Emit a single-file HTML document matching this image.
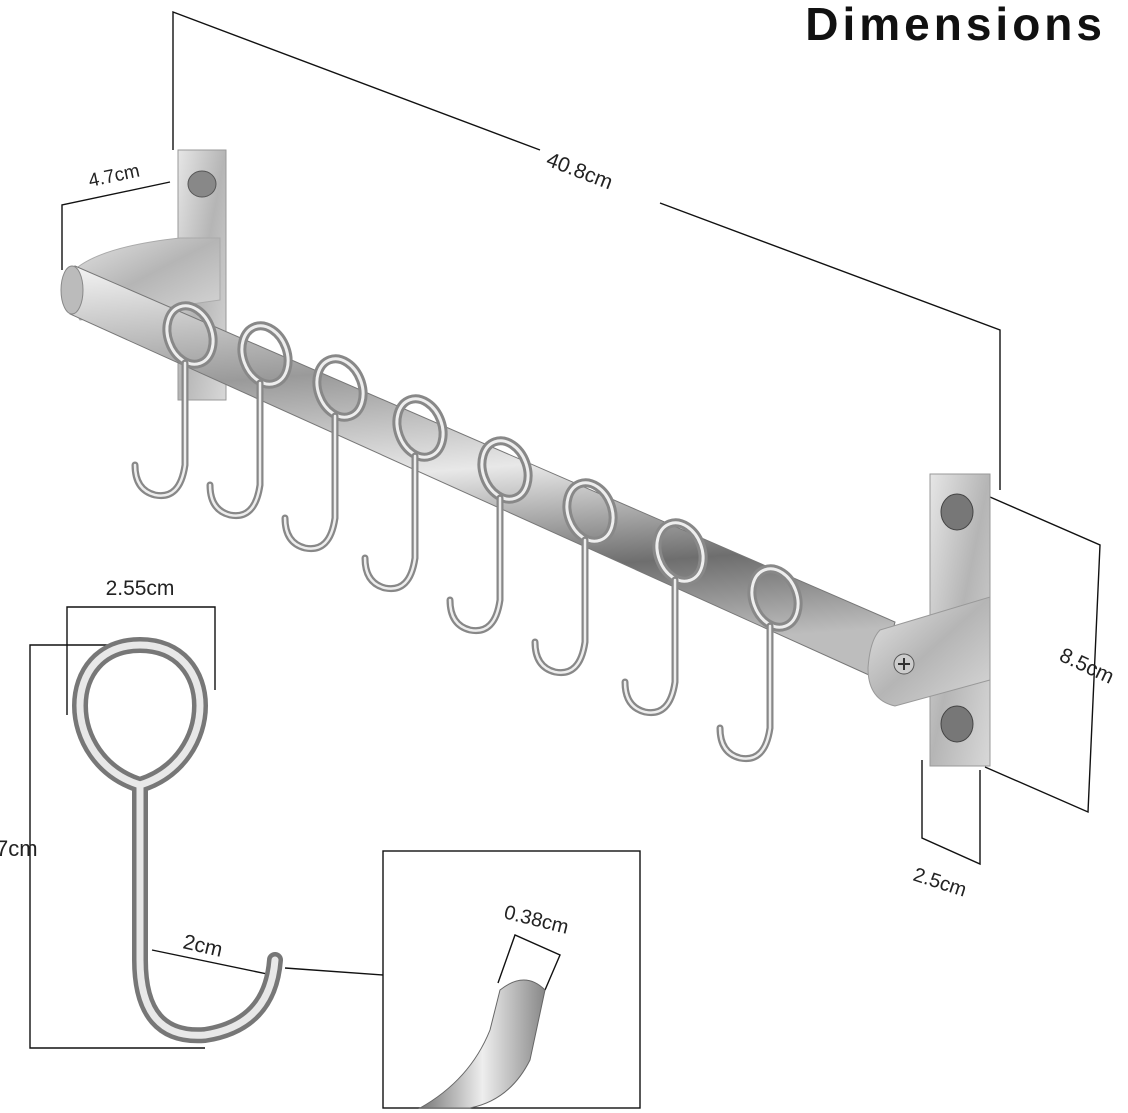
<!DOCTYPE html>
<html><head><meta charset="utf-8"><style>
html,body{margin:0;padding:0;background:#fff;}
svg{display:block}
text{font-family:"Liberation Sans",sans-serif;fill:#222}
</style></head><body>
<svg width="1128" height="1113" viewBox="0 0 1128 1113" xmlns="http://www.w3.org/2000/svg">
<defs>
<linearGradient id="rod" x1="0" y1="0" x2="0.15" y2="1">
<stop offset="0" stop-color="#f4f4f4"/><stop offset="0.3" stop-color="#9a9a9a"/><stop offset="0.55" stop-color="#e8e8e8"/><stop offset="0.8" stop-color="#6e6e6e"/><stop offset="1" stop-color="#bdbdbd"/></linearGradient>
<linearGradient id="plate" x1="0" y1="0" x2="1" y2="1">
<stop offset="0" stop-color="#e6e6e6"/><stop offset="0.5" stop-color="#b5b5b5"/><stop offset="1" stop-color="#d8d8d8"/></linearGradient>
<linearGradient id="wire" x1="0" y1="0" x2="1" y2="0">
<stop offset="0" stop-color="#777"/><stop offset="0.5" stop-color="#eee"/><stop offset="1" stop-color="#888"/></linearGradient>
<g id="h">
<ellipse cx="0" cy="0" rx="22" ry="30" stroke="#888" stroke-width="9" transform="rotate(-20)"/>
<ellipse cx="0" cy="0" rx="22" ry="30" stroke="#eee" stroke-width="3" transform="rotate(-20)"/>
<path d="M-5,28 L-5,130 Q-10,165 -35,160 Q-55,155 -55,130" stroke="#888" stroke-width="7"/>
<path d="M-5,28 L-5,130 Q-10,165 -35,160 Q-55,155 -55,130" stroke="#eee" stroke-width="2.5"/>
</g>
</defs>

<text x="1106" y="40" text-anchor="end" font-size="46" font-weight="bold" letter-spacing="4" style="fill:#111">Dimensions</text>

<g stroke="#111" stroke-width="1.4" fill="none">
<polyline points="173,150 173,12 540,150"/>
<polyline points="660,203 1000,330 1000,490"/>
<polyline points="62,270 62,205 170,182"/>
<polyline points="990,497 1100,545 1088,812 985,767"/>
<polyline points="922,760 922,838 980,864 980,770"/>
<polyline points="67,715 67,607 215,607 215,690"/>
<polyline points="140,645 30,645 30,1048 205,1048"/>
<line x1="152" y1="950" x2="272" y2="975"/>
<line x1="285" y1="968" x2="383" y2="975"/>
<rect x="383" y="851" width="257" height="257"/>
<polyline points="498,983 515,935 560,955 545,990"/>
</g>

<text x="0" y="0" font-size="21" transform="translate(545,165) rotate(21)">40.8cm</text>
<text x="0" y="0" font-size="19" transform="translate(90,187) rotate(-12)">4.7cm</text>
<text x="0" y="0" font-size="21" transform="translate(1058,660) rotate(25)">8.5cm</text>
<text x="0" y="0" font-size="20" transform="translate(912,880) rotate(18)">2.5cm</text>
<text x="140" y="595" font-size="21" text-anchor="middle">2.55cm</text>
<text x="-4" y="856" font-size="22">7cm</text>
<text x="0" y="0" font-size="21" transform="translate(182,948) rotate(13)">2cm</text>
<text x="0" y="0" font-size="20" transform="translate(503,918) rotate(14)">0.38cm</text>

<rect x="178" y="150" width="48" height="250" fill="url(#plate)" stroke="#999"/>
<ellipse cx="202" cy="184" rx="14" ry="13" fill="#888" stroke="#555"/>
<path d="M62,290 Q70,250 180,238 L220,238 L220,300 L80,320 Z" fill="url(#plate)" stroke="#aaa"/>
<path d="M75,266 L895,622 L880,680 L70,314 Z" fill="url(#rod)" stroke="#777"/>
<ellipse cx="72" cy="290" rx="11" ry="24" fill="#bbb" stroke="#888"/>
<rect x="930" y="474" width="60" height="292" fill="url(#plate)" stroke="#999"/>
<ellipse cx="957" cy="512" rx="16" ry="18" fill="#777" stroke="#444"/>
<ellipse cx="957" cy="724" rx="16" ry="18" fill="#777" stroke="#444"/>
<path d="M880,630 L990,597 L990,680 L895,706 Q868,700 868,668 Q870,640 880,630 Z" fill="url(#plate)" stroke="#999"/>
<circle cx="904" cy="664" r="10" fill="#ccc" stroke="#555"/>
<path d="M898,664 h12 M904,658 v12" stroke="#333" stroke-width="2"/>

<g fill="none" stroke-linecap="round">
<use href="#h" x="190" y="335"/>
<use href="#h" x="265" y="355"/>
<use href="#h" x="340" y="388"/>
<use href="#h" x="420" y="428"/>
<use href="#h" x="505" y="470"/>
<use href="#h" x="590" y="512"/>
<use href="#h" x="680" y="552"/>
<use href="#h" x="775" y="598"/>
</g>

<g fill="none" stroke-linecap="round">
<path d="M140,785 C60,760 60,645 140,645 C220,645 220,760 140,785 L140,960 Q140,1040 205,1035 Q270,1025 275,960" stroke="#777" stroke-width="16"/>
<path d="M140,785 C60,760 60,645 140,645 C220,645 220,760 140,785 L140,960 Q140,1040 205,1035 Q270,1025 275,960" stroke="#e8e8e8" stroke-width="7"/>
</g>
<path d="M500,990 Q525,970 545,990 L530,1060 Q510,1100 470,1108 L420,1108 Q470,1080 490,1030 Z" fill="url(#wire)" stroke="#666"/>
</svg>
</body></html>
